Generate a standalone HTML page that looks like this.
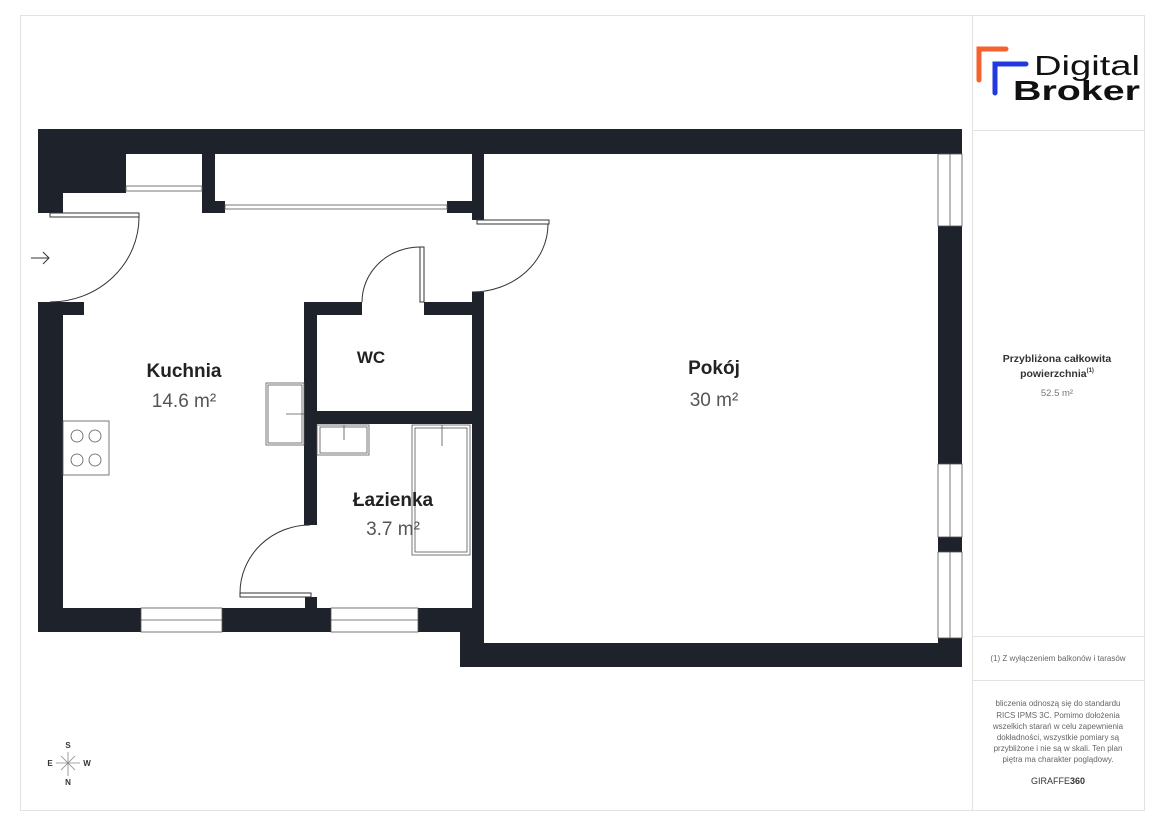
<!DOCTYPE html>
<html><head><meta charset="utf-8"><style>
html,body{margin:0;padding:0;background:#fff;}
svg{display:block;}
text{font-family:"Liberation Sans",sans-serif;}
</style></head><body>
<svg width="1176" height="824" viewBox="0 0 1176 824" xmlns="http://www.w3.org/2000/svg">
<rect x="0" y="0" width="1176" height="824" fill="#fff"/>
<rect x="20.5" y="15.5" width="1124" height="795" fill="none" stroke="#e2e2e2"/>
<line x1="972.5" y1="15" x2="972.5" y2="810" stroke="#e2e2e2"/>
<line x1="972" y1="130.5" x2="1145" y2="130.5" stroke="#e2e2e2"/>
<line x1="972" y1="636.5" x2="1145" y2="636.5" stroke="#e2e2e2"/>
<line x1="972" y1="680.5" x2="1145" y2="680.5" stroke="#e2e2e2"/>

<!-- logo -->
<path d="M979 80 V49 H1006" fill="none" stroke="#f4622f" stroke-width="5" stroke-linecap="round"/>
<path d="M995 93 V64 H1026" fill="none" stroke="#2238e0" stroke-width="5" stroke-linecap="round"/>
<text x="1034" y="75" font-size="28" fill="#111" textLength="106" lengthAdjust="spacingAndGlyphs">Digital</text>
<text x="1013" y="100" font-size="28" font-weight="bold" fill="#111" textLength="127" lengthAdjust="spacingAndGlyphs">Broker</text>

<g fill="#1e232b">
<rect x="38" y="129" width="924" height="25"/>
<rect x="38" y="129" width="88" height="64"/>
<rect x="38" y="129" width="25" height="84"/>
<rect x="202" y="154" width="13" height="59"/>
<rect x="202" y="201" width="23" height="12"/>
<rect x="447" y="201" width="25" height="12"/>
<rect x="472" y="154" width="12" height="66"/>
<rect x="38" y="302" width="25" height="330"/>
<rect x="38" y="302" width="46" height="13"/>
<rect x="38" y="608" width="434" height="24"/>
<rect x="460" y="608" width="24" height="59"/>
<rect x="460" y="643" width="502" height="24"/>
<rect x="472" y="292" width="12" height="375"/>
<rect x="938" y="154" width="24" height="513"/>
<rect x="304" y="302" width="13" height="223"/>
<rect x="304" y="302" width="58" height="13"/>
<rect x="424" y="302" width="60" height="13"/>
<rect x="304" y="411" width="180" height="13"/>
<rect x="305" y="597" width="12" height="11"/>
</g>

<g fill="#fff" stroke="#555" stroke-width="0.8">
<rect x="126" y="186" width="76" height="5"/>
<rect x="225" y="205" width="222" height="4"/>
<rect x="141" y="608" width="81" height="24"/>
<line x1="141" y1="620" x2="222" y2="620"/>
<rect x="331" y="608" width="87" height="24"/>
<line x1="331" y1="620" x2="418" y2="620"/>
<rect x="938" y="154" width="24" height="72"/>
<line x1="950" y1="154" x2="950" y2="226"/>
<rect x="938" y="464" width="24" height="73"/>
<line x1="950" y1="464" x2="950" y2="537"/>
<rect x="938" y="552" width="24" height="86"/>
<line x1="950" y1="552" x2="950" y2="638"/>
</g>

<g fill="none" stroke="#333" stroke-width="1">
<rect x="50" y="213" width="89" height="4" fill="#fff"/>
<path d="M139 217 A89 85 0 0 1 50 302"/>
<rect x="477" y="220" width="72" height="4" fill="#fff"/>
<path d="M548 224 A76 68 0 0 1 472 292"/>
<rect x="420" y="247" width="4" height="55" fill="#fff"/>
<path d="M420 247 A58 55 0 0 0 362 302"/>
<rect x="240" y="593" width="71" height="4" fill="#fff"/>
<path d="M310 525 A70 68 0 0 0 240 593"/>
<path d="M31 258 H49 M43 252 L49 258 L43 264"/>
</g>

<g fill="none" stroke="#555" stroke-width="0.8">
<rect x="266" y="383" width="38" height="62"/>
<rect x="268" y="385" width="34" height="58"/>
<line x1="286" y1="414" x2="304" y2="414"/>
<rect x="63" y="421" width="46" height="54"/>
<circle cx="77" cy="436" r="6"/><circle cx="95" cy="436" r="6"/>
<circle cx="77" cy="460" r="6"/><circle cx="95" cy="460" r="6"/>
<rect x="317" y="425" width="52" height="30"/>
<rect x="320" y="427" width="47" height="26"/>
<line x1="344" y1="425" x2="344" y2="440"/>
<rect x="412" y="425" width="58" height="130"/>
<rect x="415" y="428" width="52" height="124"/>
<line x1="442" y1="425" x2="442" y2="446"/>
</g>

<g text-anchor="middle">
<text x="184" y="377" font-size="19" font-weight="bold" fill="#222">Kuchnia</text>
<text x="184" y="407" font-size="19" fill="#555">14.6 m²</text>
<text x="371" y="363" font-size="17" font-weight="bold" fill="#222">WC</text>
<text x="393" y="506" font-size="19" font-weight="bold" fill="#222">Łazienka</text>
<text x="393" y="535" font-size="19" fill="#555">3.7 m²</text>
<text x="714" y="374" font-size="19" font-weight="bold" fill="#222">Pokój</text>
<text x="714" y="406" font-size="19" fill="#555">30 m²</text>

<text x="1057" y="362" font-size="10.5" font-weight="bold" fill="#333">Przybliżona całkowita</text>
<text x="1057" y="377" font-size="10.5" font-weight="bold" fill="#333">powierzchnia<tspan font-size="6" dy="-5">(1)</tspan></text>
<text x="1057" y="396" font-size="9.5" fill="#777">52.5 m²</text>
<text x="1058" y="661" font-size="8" fill="#666">(1) Z wyłączeniem balkonów i tarasów</text>
<g font-size="8" fill="#666">
<text x="1058" y="706">bliczenia odnoszą się do standardu</text>
<text x="1058" y="718">RICS IPMS 3C. Pomimo dołożenia</text>
<text x="1058" y="729">wszelkich starań w celu zapewnienia</text>
<text x="1058" y="740">dokładności, wszystkie pomiary są</text>
<text x="1058" y="751">przybliżone i nie są w skali. Ten plan</text>
<text x="1058" y="762">piętra ma charakter poglądowy.</text>
</g>
<text x="1058" y="784" font-size="9" fill="#333">GIRAFFE<tspan font-weight="bold">360</tspan></text>

<text x="68" y="748" font-size="8" font-weight="bold" fill="#333">S</text>
<text x="68" y="785" font-size="8" font-weight="bold" fill="#333">N</text>
<text x="50" y="766" font-size="8" font-weight="bold" fill="#333">E</text>
<text x="87" y="766" font-size="8" font-weight="bold" fill="#333">W</text>
</g>
<g stroke="#888" stroke-width="0.8">
<line x1="68" y1="752" x2="68" y2="776"/>
<line x1="56" y1="763" x2="80" y2="763"/>
<line x1="61" y1="756" x2="75" y2="770"/>
<line x1="75" y1="756" x2="61" y2="770"/>
</g>
</svg>
</body></html>
